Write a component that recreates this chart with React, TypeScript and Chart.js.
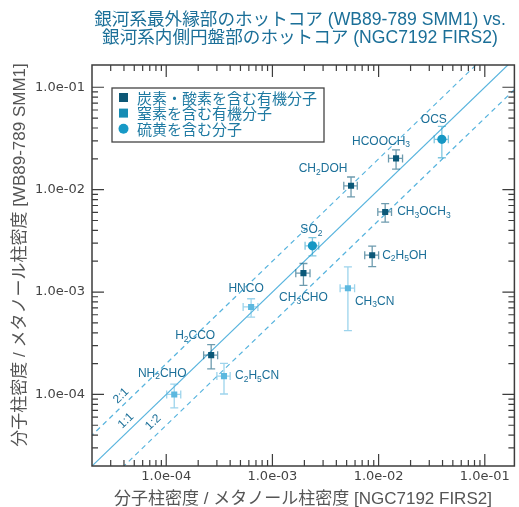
import React, { useEffect, useRef } from 'react';
import { Chart, registerables } from 'chart.js';
Chart.register(...registerables);

// ---------- data ----------
const molecules = ['OCS', 'HCOOCH{3}', 'CH{2}DOH', 'CH{3}OCH{3}', 'SO{2}', 'C{2}H{5}OH', 'CH{3}CHO', 'CH{3}CN', 'HNCO', 'H{2}CCO', 'C{2}H{5}CN', 'NH{2}CHO'];
const groups = ['S', 'CO', 'CO', 'CO', 'S', 'CO', 'CO', 'N', 'N', 'CO', 'N', 'N'];
const xValues = [0.0394, 0.0146, 0.0055, 0.01153, 0.00238, 0.0087, 0.00196, 0.00514, 0.00063, 0.000265, 0.00035, 0.000119];
const yValues = [0.031, 0.0202, 0.0109, 0.00606, 0.00283, 0.00229, 0.00153, 0.00109, 0.000715, 0.000242, 0.000151, 0.0001];
const xErrors = [0.006, 0.0022, 0.0008, 0.0017, 0.00035, 0.0013, 0.0003, 0.0008, 0.0001, 0.00004, 0.00005, 0.000018];
const yErrors = [0.0105, 0.0043, 0.0024, 0.00125, 0.00057, 0.00052, 0.00037, 0.00067, 0.000145, 0.000064, 0.00005, 0.000026];

const groupKeys = ['CO', 'N', 'S'];
const groupNames = ['炭素・酸素を含む有機分子', '窒素を含む有機分子', '硫黄を含む分子'];

const ratioNames = ['2:1', '1:1', '1:2'];
const ratioFactors = [2, 1, 0.5];
const ratioLabelX = [3.76e-5, 4.18e-5, 7.56e-5];
const ratioLabelY = [9.7e-5, 5.53e-5, 5.34e-5];

const axisMin = 2e-5;
const xMax = 0.19;
const yMax = 0.165;

const titleLines = ['銀河系最外縁部のホットコア (WB89-789 SMM1) vs.', '銀河系内側円盤部のホットコア (NGC7192 FIRS2)'];
const xTitle = '分子柱密度 / メタノール柱密度 [NGC7192 FIRS2]';
const yTitle = '分子柱密度 / メタノール柱密度 [WB89-789 SMM1]';

// ---------- styles / layout ----------
const pointColor: Record<string, string> = { CO: '#0b5878', N: '#5cb8df', S: '#1597c4' };
const errColor: Record<string, string> = { CO: 'rgba(11,88,120,0.6)', N: 'rgba(92,184,223,0.6)', S: 'rgba(21,151,196,0.55)' };
const legendColor: Record<string, string> = { CO: '#0d5876', N: '#168cb4', S: '#1799c6' };
const pointShape: Record<string, string> = { CO: 'rect', N: 'rect', S: 'circle' };
const pointSize: Record<string, number> = { CO: 4.3, N: 4.3, S: 4.6 };
const LINE_COLOR = '#58b4de';
const TEXT_TEAL = '#1b6f98';
const CJK = '"Noto Sans CJK JP", "Noto Sans", sans-serif';
const MIXED = '"Liberation Sans", "Noto Sans CJK JP", sans-serif';
// label placement: [dx, dy, align]
const labelPlacement: [number, number, CanvasTextAlign][] = [
  [-8, -20, 'center'], [-15, -17, 'center'], [-28, -17, 'center'], [12, 0, 'left'],
  [-1, -16, 'center'], [10, 0, 'left'], [0, 25, 'center'], [7, 13, 'left'],
  [-5, -18, 'center'], [-16, -19, 'center'], [11, 0, 'left'], [-12, -21, 'center'],
];

function parseLabel(s: string) {
  const parts: { t: string; sub: boolean }[] = [];
  const re = /([^{]+)|\{([^}]*)\}/g;
  let m;
  while ((m = re.exec(s))) {
    if (m[1]) parts.push({ t: m[1], sub: false });
    else parts.push({ t: m[2], sub: true });
  }
  return parts;
}

function drawChem(ctx: CanvasRenderingContext2D, s: string, x: number, y: number, align: CanvasTextAlign) {
  const parts = parseLabel(s);
  const main = '12px "Liberation Sans", Arial, sans-serif';
  const sub = '8.5px "Liberation Sans", Arial, sans-serif';
  let w = 0;
  for (const p of parts) { ctx.font = p.sub ? sub : main; w += ctx.measureText(p.t).width; }
  let cx = align === 'center' ? x - w / 2 : align === 'right' ? x - w : x;
  ctx.textAlign = 'left';
  ctx.textBaseline = 'middle';
  for (const p of parts) {
    ctx.font = p.sub ? sub : main;
    ctx.fillText(p.t, cx, p.sub ? y + 3.5 : y);
    cx += ctx.measureText(p.t).width;
  }
}

function fmtTick(v: number) {
  const l = Math.log10(v);
  const e = Math.round(l);
  if (Math.abs(l - e) > 1e-6) return '';
  return `1.0e${e < 0 ? '-' : '+'}${String(Math.abs(e)).padStart(2, '0')}`;
}

const decorPlugin = {
  id: 'decor',
  beforeDraw(chart: any) {
    const ctx = chart.ctx;
    ctx.save();
    ctx.fillStyle = '#ffffff';
    ctx.fillRect(0, 0, chart.width, chart.height);
    ctx.restore();
  },
  beforeDatasetDraw(chart: any, args: any) {
    const ds = chart.data.datasets[args.index];
    if (!ds.errGroup) return;
    const ctx = chart.ctx;
    const xs = chart.scales.x, ys = chart.scales.y;
    ctx.save();
    ctx.strokeStyle = errColor[ds.errGroup];
    ctx.lineWidth = 1.3;
    const cap = 4;
    groups.forEach((g, i) => {
      if (g !== ds.errGroup) return;
      const px = xs.getPixelForValue(xValues[i]);
      const py = ys.getPixelForValue(yValues[i]);
      const x0 = xs.getPixelForValue(xValues[i] - xErrors[i]);
      const x1 = xs.getPixelForValue(xValues[i] + xErrors[i]);
      const y0 = ys.getPixelForValue(yValues[i] - yErrors[i]);
      const y1 = ys.getPixelForValue(yValues[i] + yErrors[i]);
      ctx.beginPath();
      ctx.moveTo(x0, py); ctx.lineTo(x1, py);
      ctx.moveTo(x0, py - cap); ctx.lineTo(x0, py + cap);
      ctx.moveTo(x1, py - cap); ctx.lineTo(x1, py + cap);
      ctx.moveTo(px, y0); ctx.lineTo(px, y1);
      ctx.moveTo(px - cap, y0); ctx.lineTo(px + cap, y0);
      ctx.moveTo(px - cap, y1); ctx.lineTo(px + cap, y1);
      ctx.stroke();
    });
    ctx.restore();
  },
  afterDraw(chart: any) {
    const ctx: CanvasRenderingContext2D = chart.ctx;
    const a = chart.chartArea;
    const xs = chart.scales.x, ys = chart.scales.y;
    ctx.save();
    // molecule labels
    ctx.fillStyle = TEXT_TEAL;
    molecules.forEach((m, i) => {
      const px = xs.getPixelForValue(xValues[i]);
      const py = ys.getPixelForValue(yValues[i]);
      const [dx, dy, al] = labelPlacement[i];
      drawChem(ctx, m, px + dx, py + dy, al);
    });
    // ratio labels
    const ang = Math.atan2(ys.getPixelForValue(1e-3) - ys.getPixelForValue(1e-4), xs.getPixelForValue(1e-3) - xs.getPixelForValue(1e-4));
    ratioNames.forEach((r, i) => {
      ctx.save();
      ctx.translate(xs.getPixelForValue(ratioLabelX[i]), ys.getPixelForValue(ratioLabelY[i]));
      ctx.rotate(ang);
      ctx.font = '12px "Liberation Sans", Arial, sans-serif';
      ctx.textAlign = 'center';
      ctx.textBaseline = 'middle';
      ctx.fillText(r, 0, 0);
      ctx.restore();
    });
    // frame & ticks
    ctx.strokeStyle = '#3d3d3d';
    ctx.lineWidth = 1.5;
    ctx.strokeRect(a.left, a.top, a.right - a.left, a.bottom - a.top);
    ctx.lineWidth = 1.2;
    ctx.beginPath();
    for (let e = -6; e <= 1; e++) {
      for (let mm = 1; mm <= 9; mm++) {
        const v = mm * Math.pow(10, e);
        const len = mm === 1 ? 12 : 6;
        if (v > xs.min && v < xs.max) {
          const p = xs.getPixelForValue(v);
          ctx.moveTo(p, a.bottom); ctx.lineTo(p, a.bottom - len);
          ctx.moveTo(p, a.top); ctx.lineTo(p, a.top + len);
        }
        if (v > ys.min && v < ys.max) {
          const p = ys.getPixelForValue(v);
          ctx.moveTo(a.left, p); ctx.lineTo(a.left + len, p);
          ctx.moveTo(a.right, p); ctx.lineTo(a.right - len, p);
        }
      }
    }
    ctx.stroke();
    // legend
    const lx = 112, ly = 88, lw = 212, lh = 54;
    ctx.fillStyle = '#ffffff';
    ctx.fillRect(lx, ly, lw, lh);
    ctx.strokeStyle = '#444';
    ctx.lineWidth = 1.3;
    ctx.strokeRect(lx, ly, lw, lh);
    groupKeys.forEach((g, i) => {
      const cy = ly + 9.5 + i * 15.6;
      ctx.fillStyle = legendColor[g];
      if (pointShape[g] === 'circle') {
        ctx.beginPath(); ctx.arc(lx + 11.5, cy, 5, 0, Math.PI * 2); ctx.fill();
      } else {
        ctx.fillRect(lx + 7, cy - 4.5, 9, 9);
      }
      ctx.fillStyle = '#1f7aa2';
      ctx.font = `15px ${CJK}`;
      ctx.textAlign = 'left';
      ctx.textBaseline = 'middle';
      ctx.fillText(groupNames[i], lx + 25, cy + 0.5);
    });
    // titles
    ctx.fillStyle = TEXT_TEAL;
    ctx.font = `17.6px ${MIXED}`;
    ctx.textAlign = 'center';
    ctx.textBaseline = 'middle';
    ctx.fillText(titleLines[0], 300, 20.5);
    ctx.fillText(titleLines[1], 300, 38.5);
    ctx.fillStyle = '#555';
    ctx.font = `17px ${MIXED}`;
    ctx.fillText(xTitle, 303, 499);
    ctx.save();
    ctx.translate(20, 255);
    ctx.rotate(-Math.PI / 2);
    ctx.fillText(yTitle, 0, 0);
    ctx.restore();
    ctx.restore();
  },
};

export default function App() {
  const ref = useRef<HTMLCanvasElement>(null);
  useEffect(() => {
    const canvas = ref.current!;
    const scatterSets = groupKeys.map((g, gi) => ({
      type: 'scatter' as const,
      label: groupNames[gi],
      errGroup: g,
      data: groups.map((gg, i) => (gg === g ? { x: xValues[i], y: yValues[i] } : null)).filter(Boolean) as any[],
      backgroundColor: pointColor[g],
      borderColor: pointColor[g],
      borderWidth: 0,
      pointStyle: pointShape[g],
      pointRadius: pointSize[g],
      clip: 0,
    }));
    const lineSets = ratioFactors.map((f, i) => ({
      type: 'line' as const,
      label: ratioNames[i],
      data: [{ x: 1e-6, y: 1e-6 * f }, { x: 10, y: 10 * f }],
      borderColor: LINE_COLOR,
      borderWidth: 1.2,
      borderDash: f === 1 ? [] : [5, 4],
      pointRadius: 0,
      fill: false,
      clip: 0,
    }));
    const tickCommon = {
      autoSkip: false,
      maxRotation: 0,
      font: { family: '"DejaVu Sans", sans-serif', size: 13 },
      color: '#444',
      callback: (v: any) => fmtTick(Number(v)),
    };
    const chart = new Chart(canvas, {
      data: { datasets: [...scatterSets, ...lineSets] as any },
      options: {
        responsive: false,
        animation: false,
        layout: { padding: { top: 65, left: 0, right: 0, bottom: 0 } },
        plugins: { legend: { display: false }, title: { display: false }, tooltip: { enabled: false } },
        scales: {
          x: {
            type: 'logarithmic', min: axisMin, max: xMax,
            grid: { display: false, drawTicks: false }, border: { display: false },
            ticks: { ...tickCommon, padding: 3 },
            afterFit: (s: any) => { s.height = 41; },
          },
          y: {
            type: 'logarithmic', min: axisMin, max: yMax,
            grid: { display: false, drawTicks: false }, border: { display: false },
            ticks: { ...tickCommon, padding: 7 },
            afterFit: (s: any) => { s.width = 92; },
          },
        },
      } as any,
      plugins: [decorPlugin],
    });
    return () => chart.destroy();
  }, []);
  return (
    <div style={{ position: 'absolute', left: 0, top: 0, width: 519, height: 507 }}>
      <canvas ref={ref} width={519} height={507} style={{ display: 'block', width: 519, height: 507 }} />
    </div>
  );
}
